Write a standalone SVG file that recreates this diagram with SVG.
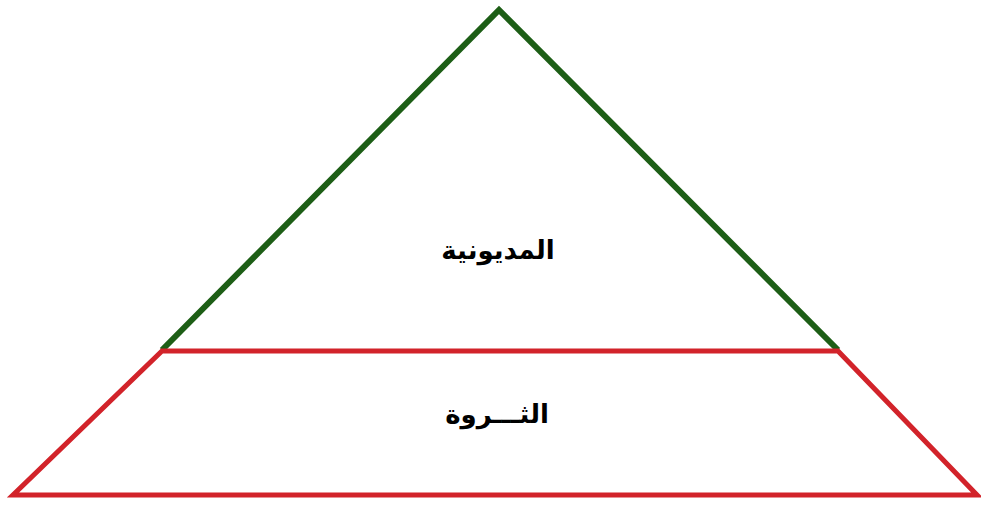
<svg xmlns="http://www.w3.org/2000/svg" width="981" height="505" viewBox="0 0 981 505">
<style>
.t{font-family:"DejaVu Sans","Noto Sans",sans-serif;font-weight:bold;font-size:26px;fill:#000;text-anchor:middle}
.g{fill:none;stroke:#1d5e16;stroke-width:6;stroke-linejoin:miter}
.r{fill:none;stroke:#d2232a;stroke-width:5;stroke-linejoin:miter}
</style>
<rect width="981" height="505" fill="#fff"/>
<g id="connectors"></g>
<g id="debt">
<polyline class="g" points="162,350 499,10 838,350"/>
<text class="t" x="498" y="259" direction="rtl">المديونية</text>
</g>
<g id="wealth">
<polygon class="r" points="162,351 838,351 977,495 13,495"/>
<text class="t" x="497" y="423" direction="rtl">الثـــروة</text>
</g>
</svg>
